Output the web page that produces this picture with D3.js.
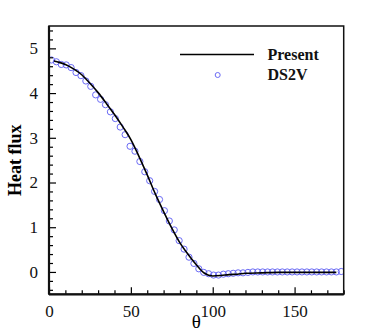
<!DOCTYPE html>
<html><head><meta charset="utf-8">
<script src="https://cdn.jsdelivr.net/npm/d3@7"></script>
<style>body{margin:0;background:#fff}svg{display:block}
text{font-family:"Liberation Serif","Times New Roman",serif}</style>
</head><body>
<script>
// Present (solid line)
const presentTheta = [3,5,10,15,20,25,30,35,40,45,50,55,60,65,70,75,80,85,90,95,100,105,110,115,120,130,140,150,160,175.5];
const presentFlux  = [4.72,4.70,4.64,4.54,4.41,4.22,4.01,3.77,3.52,3.25,2.96,2.58,2.17,1.74,1.35,0.98,0.65,0.39,0.16,-0.03,-0.09,-0.08,-0.06,-0.05,-0.03,-0.02,-0.01,-0.01,-0.01,-0.01];
// DS2V (circles)
const ds2vTheta = d3.range(60).map(k => 1.5 + 3*k);
const ds2vFlux = [4.74,4.70,4.64,4.63,4.57,4.46,4.39,4.27,4.15,3.96,3.86,3.74,3.58,3.43,3.24,3.07,2.81,2.70,2.47,2.24,
  2.04,1.80,1.62,1.37,1.14,0.94,0.70,0.51,0.33,0.19,0.07,-0.01,-0.04,-0.07,-0.07,-0.05,-0.04,-0.03,-0.02,-0.02,
  -0.01,0.00,0.00,0.00,0.00,0.00,0.00,0.00,0.00,0.00,0.00,0.00,0.00,0.00,0.00,0.00,0.00,0.00,0.00,0.01];
const xTicks = [0,50,100,150];
const yTicks = [0,1,2,3,4,5];
const legendLabels = ["Present","DS2V"];

const W = 374, H = 332;
const m = {left:49, right:30.3, top:26, bottom:37.7};
const svg = d3.select("body").append("svg").attr("width",W).attr("height",H);
const x = d3.scaleLinear().domain([0,180]).range([m.left, W-m.right]);
const y = d3.scaleLinear().domain([-0.5,5.5]).range([H-m.bottom, m.top]);
const serif = "Liberation Serif, Times New Roman, serif";
const blue = "#6a6af5";

svg.append("clipPath").attr("id","c").append("rect")
  .attr("x",m.left).attr("y",m.top).attr("width",W-m.left-m.right).attr("height",H-m.top-m.bottom);

// data
const g = svg.append("g").attr("clip-path","url(#c)");
g.selectAll("circle.d").data(ds2vTheta).join("circle").attr("class","d")
  .attr("cx",d=>x(d)).attr("cy",(d,i)=>y(ds2vFlux[i])).attr("r",3.1)
  .attr("fill","none").attr("stroke",blue).attr("stroke-width",1);
g.append("path").datum(presentTheta.map((t,i)=>[t,presentFlux[i]]))
  .attr("d",d3.line().x(d=>x(d[0])).y(d=>y(d[1])).curve(d3.curveMonotoneX))
  .attr("fill","none").attr("stroke","#000").attr("stroke-width",1.6);

// axes (ticks inward)
const xAxis = d3.axisBottom(x).tickValues(xTicks).tickSize(-7).tickPadding(11).tickFormat(d3.format("d"));
const xMinor = d3.axisBottom(x).tickValues(d3.range(0,181,10).filter(v=>v%50)).tickSize(-4).tickFormat("");
const yAxis = d3.axisLeft(y).tickValues(yTicks).tickSize(-7).tickPadding(11).tickFormat(d3.format("d"));
const yMinor = d3.axisLeft(y).tickValues(d3.range(-4,55,2).map(v=>v/10).filter(v=>Math.abs(v-Math.round(v))>1e-6)).tickSize(-4).tickFormat("");

function style(sel){
  sel.attr("font-family",serif).attr("font-size",17);
  sel.select(".domain").remove();
  sel.selectAll("line").attr("stroke","#000").attr("stroke-width",1.2);
  sel.selectAll("text").style("font-family",serif).style("font-size","17px").attr("fill","#111");
}
svg.append("g").attr("transform",`translate(0,${H-m.bottom})`).call(xAxis).call(style);
svg.append("g").attr("transform",`translate(0,${H-m.bottom})`).call(xMinor).call(style);
svg.append("g").attr("transform",`translate(${m.left},0)`).call(yAxis).call(style);
svg.append("g").attr("transform",`translate(${m.left},0)`).call(yMinor).call(style);

// frame
svg.append("rect").attr("x",m.left).attr("y",m.top).attr("width",W-m.left-m.right).attr("height",H-m.top-m.bottom)
  .attr("fill","none").attr("stroke","#111").attr("stroke-width",1.5);
svg.append("line").attr("x1",m.left).attr("x2",W-m.right).attr("y1",H-m.bottom).attr("y2",H-m.bottom).attr("stroke","#111").attr("stroke-width",2.2);
svg.append("line").attr("x1",m.left).attr("x2",m.left).attr("y1",m.top).attr("y2",H-m.bottom).attr("stroke","#111").attr("stroke-width",2.2);

// axis titles
svg.append("text").attr("x",(x(0)+x(180))/2).attr("y",328).attr("text-anchor","middle")
  .style("font-family",serif).style("font-size","19px").text("θ");
svg.append("text").attr("transform",`translate(21,${(y(-0.5)+y(5.5))/2}) rotate(-90)`).attr("text-anchor","middle")
  .style("font-family",serif).style("font-weight","bold").style("font-size","18px").text("Heat flux");

// legend
svg.append("line").attr("x1",180).attr("x2",254).attr("y1",54.5).attr("y2",54.5).attr("stroke","#000").attr("stroke-width",1.6);
svg.append("circle").attr("cx",217.7).attr("cy",75).attr("r",2.5).attr("fill","none").attr("stroke",blue).attr("stroke-width",1);
svg.selectAll("text.leg").data(legendLabels).join("text").attr("class","leg")
  .attr("x",267.5).attr("y",(d,i)=>60+i*20).style("font-family",serif).style("font-weight","bold").style("font-size","16px")
  .attr("fill","#111").text(d=>d);
</script>
</body></html>
